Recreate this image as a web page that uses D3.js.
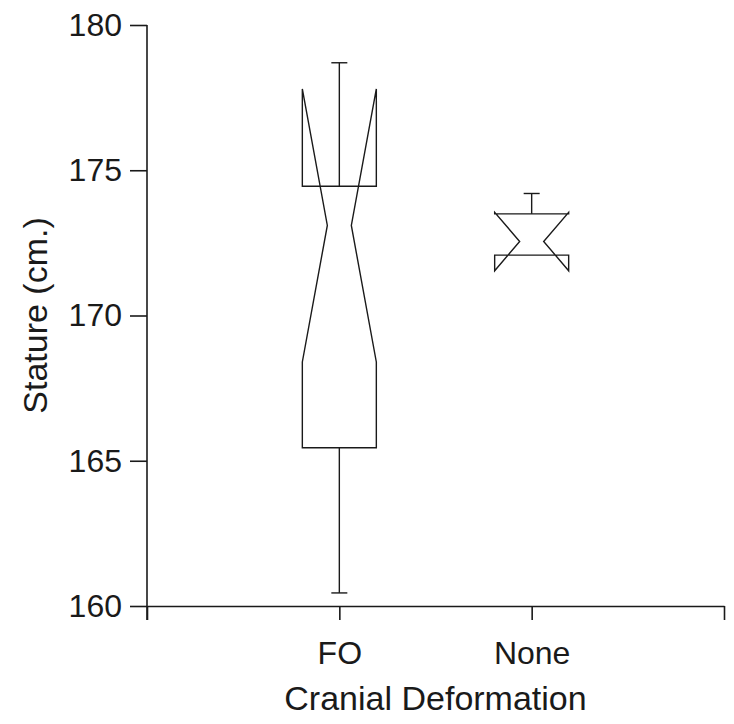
<!DOCTYPE html>
<html>
<head>
<meta charset="utf-8">
<script src="https://cdn.jsdelivr.net/npm/d3@7"></script>
<style>
  body { margin: 0; background: #fff; }
  svg text { font-family: "Liberation Sans", Arial, sans-serif; fill: #1a1a1a; }
</style>
</head>
<body>
<div id="chart"></div>
<script>
// data
const groups = ["FO", "None"];
const whiskerLow = [160.45, 172.08];
const q1 = [165.45, 172.08];
const median = [173.1, 172.55];
const q3 = [174.45, 173.5];
const whiskerHigh = [178.7, 174.2];
const notchLow = [168.4, 171.54];
const notchHigh = [177.8, 173.55];
const yTicks = [160, 165, 170, 175, 180];

const width = 734, height = 724;
const margin = { top: 25, right: 10, bottom: 118, left: 147 };
const ink = "#1a1a1a";

const svg = d3.select("#chart").append("svg")
  .attr("width", width)
  .attr("height", height);

// x positions: 0 and 3 are the empty ends of the axis
const x = d3.scaleLinear()
  .domain([0, 3])
  .range([margin.left, width - margin.right]);
const y = d3.scaleLinear()
  .domain([160, 180])
  .range([height - margin.bottom, margin.top]);

// y axis
const yAxis = svg.append("g")
  .attr("transform", `translate(${margin.left},0)`)
  .call(d3.axisLeft(y).tickValues(yTicks).tickSize(17).tickSizeOuter(0).tickPadding(8));
yAxis.select(".domain").attr("stroke", ink).attr("stroke-width", 1.6)
  .attr("d", `M0,${y(180)}V${y(160) + 14}`);
yAxis.selectAll(".tick line").attr("stroke", ink).attr("stroke-width", 1.6);
yAxis.selectAll(".tick text").attr("font-size", 32).attr("fill", ink)
  .attr("font-family", "Liberation Sans, Arial, sans-serif");

// x axis
const xAxis = svg.append("g")
  .attr("transform", `translate(0,${y(160)})`)
  .call(d3.axisBottom(x).tickValues([0, 1, 2, 3]).tickSize(14).tickSizeOuter(0)
    .tickPadding(21)
    .tickFormat(d => (d >= 1 && d <= groups.length) ? groups[d - 1] : ""));
xAxis.select(".domain").attr("stroke", ink).attr("stroke-width", 1.6);
xAxis.selectAll(".tick line").attr("stroke", ink).attr("stroke-width", 1.6);
xAxis.selectAll(".tick text").attr("font-size", 32).attr("fill", ink)
  .attr("font-family", "Liberation Sans, Arial, sans-serif");

// axis titles
svg.append("text")
  .attr("x", (x(0) + x(3)) / 2)
  .attr("y", 710)
  .attr("text-anchor", "middle")
  .attr("font-size", 34)
  .text("Cranial Deformation");

svg.append("text")
  .attr("transform", `translate(47,${(y(160) + y(180)) / 2}) rotate(-90)`)
  .attr("text-anchor", "middle")
  .attr("font-size", 34)
  .text("Stature (cm.)");

// notched boxes
const halfBox = 37, halfNotch = 12, halfCap = 8;

groups.forEach((g, i) => {
  const cx = x(i + 1);
  const L = cx - halfBox, R = cx + halfBox;
  const box = svg.append("g")
    .attr("fill", "none")
    .attr("stroke", ink)
    .attr("stroke-width", 1.4);

  // whiskers
  if (whiskerHigh[i] > q3[i]) {
    box.append("line").attr("x1", cx).attr("x2", cx)
      .attr("y1", y(q3[i])).attr("y2", y(whiskerHigh[i]));
    box.append("line").attr("x1", cx - halfCap).attr("x2", cx + halfCap)
      .attr("y1", y(whiskerHigh[i])).attr("y2", y(whiskerHigh[i]));
  }
  if (whiskerLow[i] < q1[i]) {
    box.append("line").attr("x1", cx).attr("x2", cx)
      .attr("y1", y(q1[i])).attr("y2", y(whiskerLow[i]));
    box.append("line").attr("x1", cx - halfCap).attr("x2", cx + halfCap)
      .attr("y1", y(whiskerLow[i])).attr("y2", y(whiskerLow[i]));
  }

  // outline with the notch
  const pts = [
    [L, y(q1[i])], [L, y(notchLow[i])], [cx - halfNotch, y(median[i])],
    [L, y(notchHigh[i])], [L, y(q3[i])], [R, y(q3[i])],
    [R, y(notchHigh[i])], [cx + halfNotch, y(median[i])],
    [R, y(notchLow[i])], [R, y(q1[i])]
  ];
  box.append("path")
    .attr("stroke-linejoin", "miter")
    .attr("d", d3.line()(pts) + "Z");
});
</script>
</body>
</html>
